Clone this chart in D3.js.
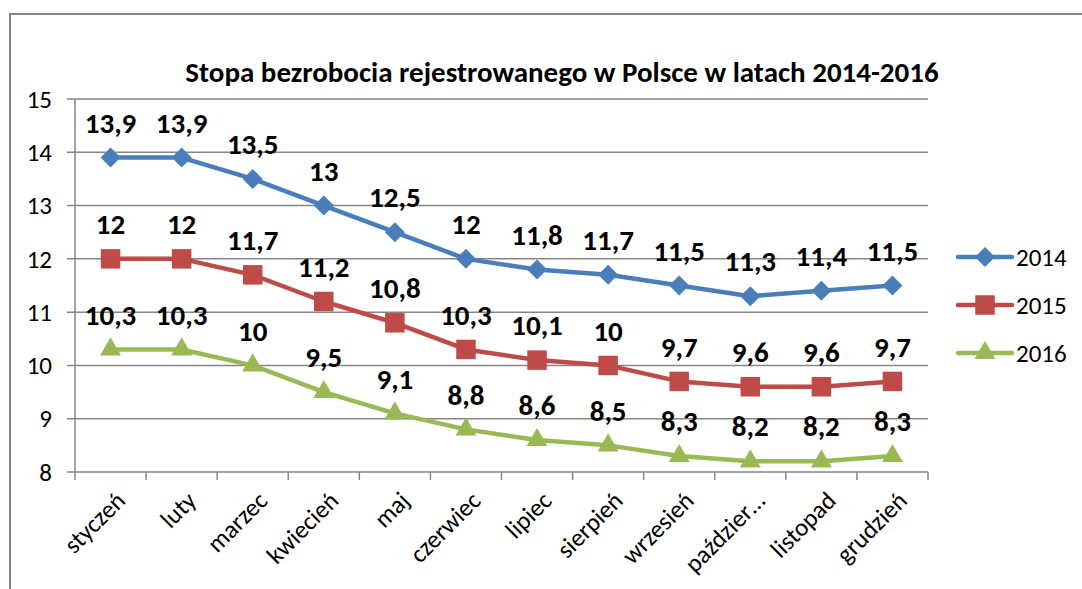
<!DOCTYPE html>
<html>
<head>
<meta charset="utf-8">
<script src="https://cdn.jsdelivr.net/npm/d3@7"></script>
<style>
  body { margin: 0; background: #fff; }
  svg text { font-family: Carlito, Lato, "Open Sans", sans-serif; }
</style>
</head>
<body>
<div id="chart"></div>
<script>
var months = ["styczeń", "luty", "marzec", "kwiecień", "maj", "czerwiec", "lipiec",
  "sierpień", "wrzesień", "październik", "listopad", "grudzień"];
var monthLabels = ["styczeń", "luty", "marzec", "kwiecień", "maj", "czerwiec", "lipiec",
  "sierpień", "wrzesień", "paździer…", "listopad", "grudzień"];
var years = ["2014", "2015", "2016"];
var v2014 = [13.9, 13.9, 13.5, 13, 12.5, 12, 11.8, 11.7, 11.5, 11.3, 11.4, 11.5];
var v2015 = [12, 12, 11.7, 11.2, 10.8, 10.3, 10.1, 10, 9.7, 9.6, 9.6, 9.7];
var v2016 = [10.3, 10.3, 10, 9.5, 9.1, 8.8, 8.6, 8.5, 8.3, 8.2, 8.2, 8.3];
var yTicks = [8, 9, 10, 11, 12, 13, 14, 15];
var title = "Stopa bezrobocia rejestrowanego w Polsce w latach 2014-2016";

var W = 1082, H = 589;
var margin = { top: 99, right: 154, bottom: 117, left: 75 };
var width = W - margin.left - margin.right;
var height = H - margin.top - margin.bottom;

var colors = ["#4A7EBB", "#BE4B48", "#98B954"];
// diamond = rotated square
var symbols = [d3.symbolSquare, d3.symbolSquare, d3.symbolTriangle];
var symSizes = [200, 380, 190];
var symRot = [45, 0, 0];
var series = [v2014, v2015, v2016];

var svg = d3.select("#chart").append("svg")
  .attr("width", W).attr("height", H);

// outer frame
svg.append("path")
  .attr("d", "M10," + H + "V14H" + W)
  .attr("fill", "none").attr("stroke", "#868686").attr("stroke-width", 2);

svg.append("text")
  .attr("x", 562).attr("y", 82)
  .attr("text-anchor", "middle")
  .attr("font-size", 29).attr("font-weight", "bold")
  .text(title);

var g = svg.append("g")
  .attr("transform", "translate(" + margin.left + "," + margin.top + ")");

var x = d3.scaleBand().domain(months).range([0, width]);
var y = d3.scaleLinear().domain([8, 15]).range([height, 0]);

// gridlines
g.selectAll(".grid").data(yTicks).enter().append("line")
  .attr("x1", -8).attr("x2", width)
  .attr("y1", function(d) { return y(d); })
  .attr("y2", function(d) { return y(d); })
  .attr("stroke", "#868686").attr("stroke-width", 1.5);

// y axis line
g.append("line").attr("x1", 0).attr("x2", 0).attr("y1", 0).attr("y2", height)
  .attr("stroke", "#868686").attr("stroke-width", 1.5);

g.selectAll(".ylab").data(yTicks).enter().append("text")
  .attr("x", -23).attr("y", function(d) { return y(d); })
  .attr("dy", "0.35em").attr("text-anchor", "end")
  .attr("font-size", 25).text(function(d) { return d; });

// x ticks at band boundaries
var bounds = months.map(function(m) { return x(m); }).concat([width]);
g.selectAll(".xtick").data(bounds).enter().append("line")
  .attr("x1", function(d) { return d; }).attr("x2", function(d) { return d; })
  .attr("y1", height).attr("y2", height + 8)
  .attr("stroke", "#868686").attr("stroke-width", 1.5);

g.selectAll(".xlab").data(months).enter().append("text")
  .attr("transform", function(d) {
    return "translate(" + (x(d) + x.bandwidth() / 2 + 10) + "," + (height + 24) + ") rotate(-45)";
  })
  .attr("text-anchor", "end").attr("dy", "0.35em")
  .attr("font-size", 25)
  .text(function(d, i) { return monthLabels[i]; });

var line = d3.line()
  .x(function(d, i) { return x(months[i]) + x.bandwidth() / 2; })
  .y(function(d) { return y(d); });

series.forEach(function(vals, s) {
  g.append("path").datum(vals)
    .attr("d", line)
    .attr("fill", "none").attr("stroke", colors[s])
    .attr("stroke-width", 4.5).attr("stroke-linejoin", "round").attr("stroke-linecap", "round");

  g.selectAll(".m" + s).data(vals).enter().append("path")
    .attr("d", d3.symbol().type(symbols[s]).size(symSizes[s]))
    .attr("transform", function(d, i) {
      return "translate(" + (x(months[i]) + x.bandwidth() / 2) + "," + y(d) + ") rotate(" + symRot[s] + ")";
    })
    .attr("fill", colors[s]);

  g.selectAll(".l" + s).data(vals).enter().append("text")
    .attr("x", function(d, i) { return x(months[i]) + x.bandwidth() / 2; })
    .attr("y", function(d) { return y(d) - 35; })
    .attr("dy", "0.35em").attr("text-anchor", "middle")
    .attr("font-size", 29).attr("font-weight", "bold")
    .text(function(d) { return String(d).replace(".", ","); });
});

// legend
var leg = svg.append("g");
years.forEach(function(yr, s) {
  var ly = 257 + s * 48;
  leg.append("line").attr("x1", 958).attr("x2", 1012).attr("y1", ly).attr("y2", ly)
    .attr("stroke", colors[s]).attr("stroke-width", 4.5).attr("stroke-linecap", "round");
  leg.append("path")
    .attr("d", d3.symbol().type(symbols[s]).size(symSizes[s]))
    .attr("transform", "translate(985," + ly + ") rotate(" + symRot[s] + ")")
    .attr("fill", colors[s]);
  leg.append("text").attr("x", 1016).attr("y", ly).attr("dy", "0.35em")
    .attr("font-size", 25).text(yr);
});
</script>
</body>
</html>
